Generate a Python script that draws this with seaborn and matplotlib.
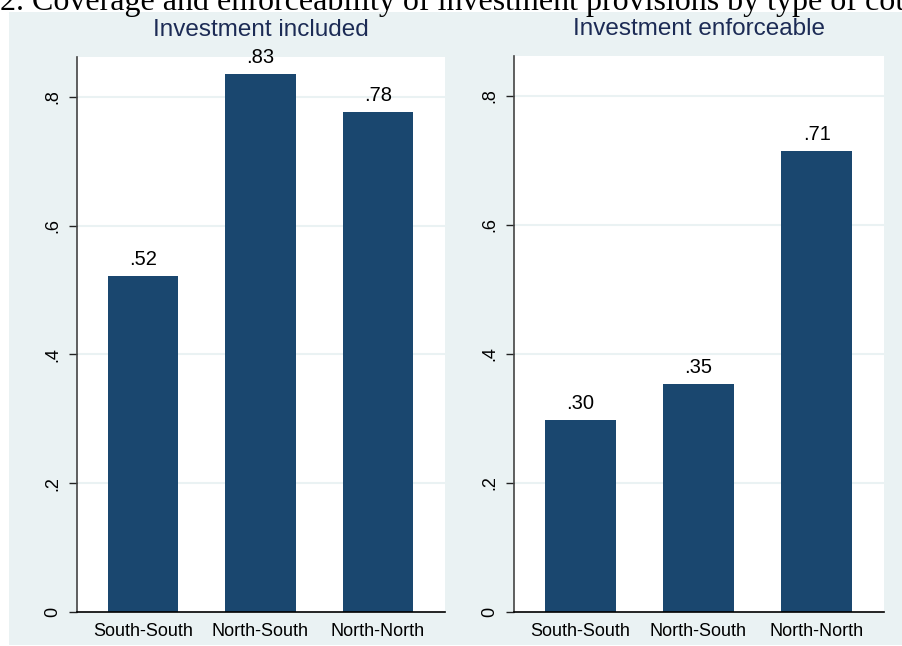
import matplotlib
matplotlib.use("Agg")
import matplotlib.pyplot as plt
import seaborn as sns
import pandas as pd
from matplotlib.patches import Rectangle

categories = ["South-South", "North-South", "North-North"]
included = [0.522, 0.835, 0.777]
enforceable = [0.297, 0.354, 0.714]
panel_titles = ["Investment included", "Investment enforceable"]
yticks = [0, 0.2, 0.4, 0.6, 0.8]
ytick_labels = ["0", ".2", ".4", ".6", ".8"]
suptitle = "2. Coverage and enforceability of investment provisions by type of country pair"

sns.set_style("white")
plt.rcParams["font.family"] = ["Liberation Sans", "DejaVu Sans"]

BG = "#EAF2F3"
BAR = "#1A476F"
TITLE_C = "#1C2B55"

W, H = 903, 646
fig = plt.figure(figsize=(W / 100, H / 100), dpi=100)
fig.patch.set_facecolor("white")
bg = Rectangle((9 / W, 1 / H), 1 - 9 / W, (H - 13) / H,
               transform=fig.transFigure, facecolor=BG,
               edgecolor="none", zorder=-10)
fig.add_artist(bg)

fig.text(0.0, 1 - 10 / H, suptitle, family=["Liberation Serif", "DejaVu Serif"],
         fontsize=23, color="black", ha="left", va="baseline", zorder=5)

axes_px = [(77, 445, 57), (514, 884, 56)]
series = [included, enforceable]
for (x0, x1, top), vals, title in zip(axes_px, series, panel_titles):
    ax = fig.add_axes([x0 / W, (H - 612) / H, (x1 - x0) / W, (612 - top) / H])
    ax.set_zorder(1)
    df = pd.DataFrame({"cat": categories, "val": vals})
    sns.barplot(data=df, x="cat", y="val", ax=ax, color=BAR, saturation=1,
                width=0.6, edgecolor="none")
    ax.set_facecolor("white")
    ax.set_ylim(0, 0.862)
    ax.set_xlim(-0.56, 2.57)
    ax.set_yticks(yticks)
    ax.set_yticklabels(ytick_labels)
    ax.set_xlabel("")
    ax.set_ylabel("")
    for y in yticks[1:]:
        ax.axhline(y, color=BG, lw=1.5, zorder=0.5)
    for sp in ["top", "right"]:
        ax.spines[sp].set_visible(False)
    ax.spines["left"].set_color("#444444")
    ax.spines["left"].set_linewidth(1.2)
    ax.spines["bottom"].set_color("black")
    ax.spines["bottom"].set_linewidth(1.2)
    ax.tick_params(axis="y", labelrotation=90, length=6, width=1, color="#222222",
                   pad=5, labelsize=13, labelcolor="black", left=True)
    ax.tick_params(axis="x", length=0, pad=8, labelsize=13, labelcolor="black")
    for lbl in ax.get_yticklabels():
        lbl.set_va("center")
    for i, v in enumerate(vals):
        ax.text(i, v + 0.017, ("%.2f" % v).lstrip("0"), ha="center", va="baseline",
                fontsize=14.5, color="black")
    ax.text(0.5, 1 + 21 / (612 - top), title, transform=ax.transAxes, ha="center",
            va="baseline", fontsize=17.5, color=TITLE_C)

fig.savefig("out.png", dpi=100, facecolor=fig.get_facecolor())
